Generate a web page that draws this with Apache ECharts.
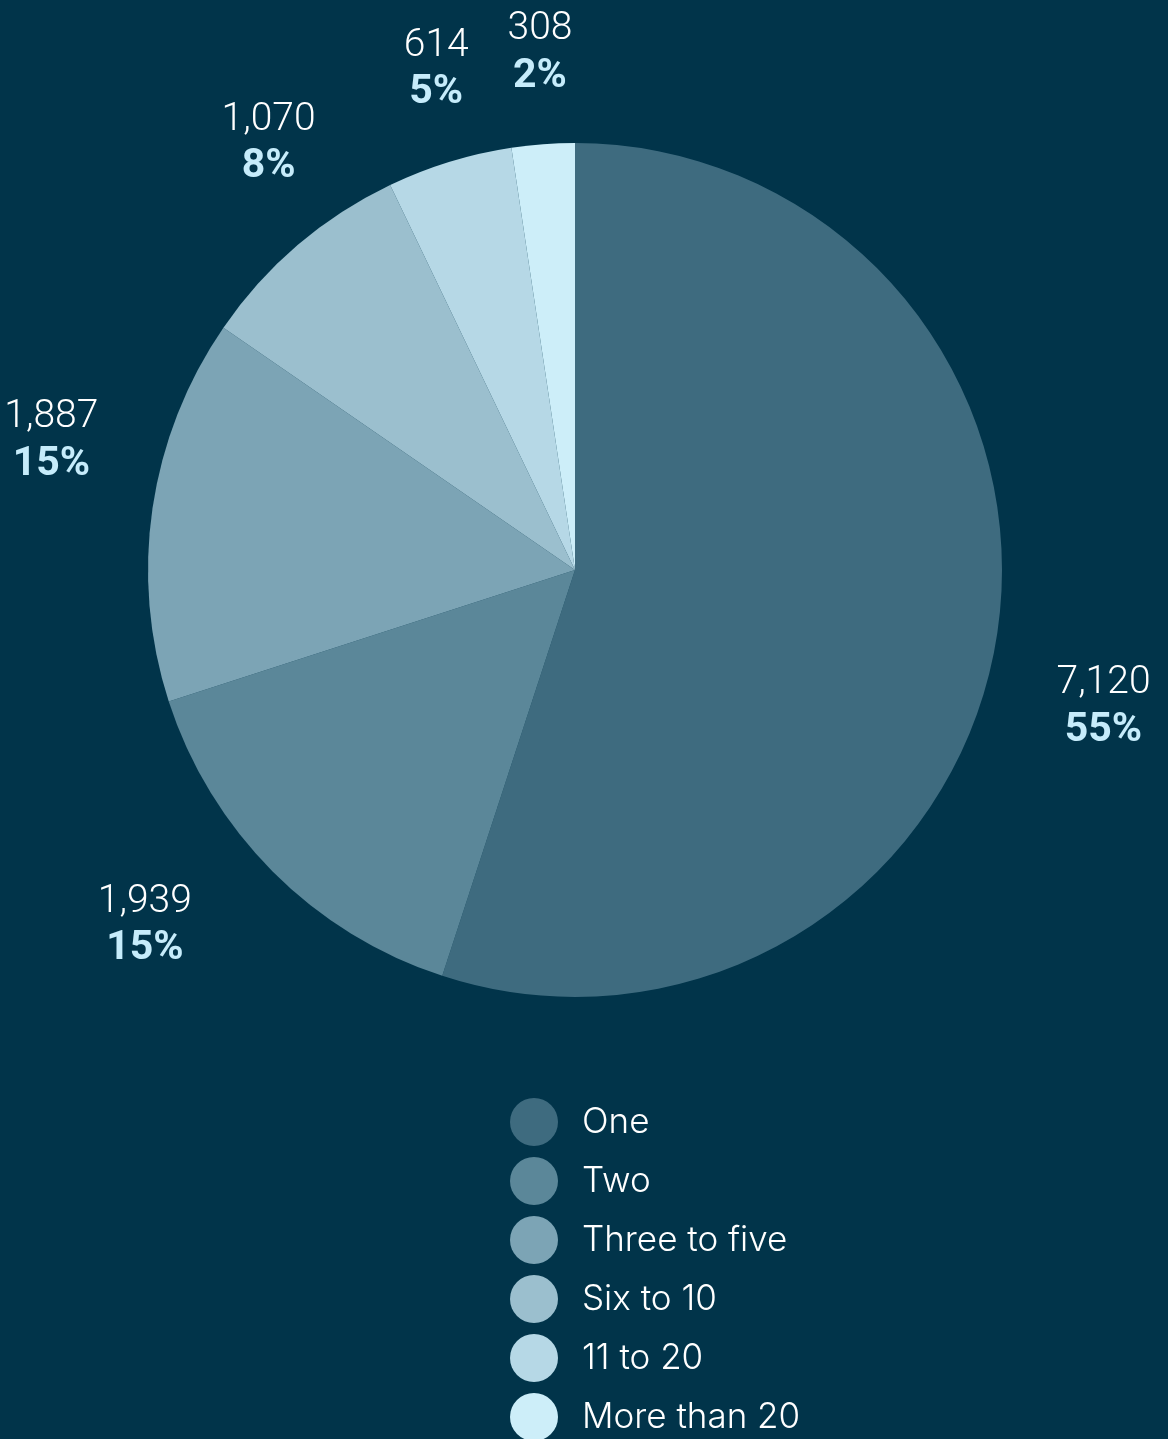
<!DOCTYPE html>
<html>
<head>
<meta charset="utf-8">
<script src="https://cdn.jsdelivr.net/npm/echarts@6/dist/echarts.min.js"></script>
<style>
  html, body { margin: 0; padding: 0; background: #01344a; }
  #chart { width: 1168px; height: 1439px; }
</style>
</head>
<body>
<div id="chart"></div>
<script>
// Households by number of members
const categories = ['One', 'Two', 'Three to five', 'Six to 10', '11 to 20', 'More than 20'];
const counts = [7120, 1939, 1887, 1070, 614, 308];
const sliceColors = ['#3e6b7f', '#5b8799', '#7ca4b5', '#9bbfce', '#b6d8e6', '#cdeef9'];

const PIE_CENTER = [575, 570];
const PIE_RADIUS = 427;

const total = counts.reduce((a, b) => a + b, 0);

function sliceAngles(idx) {
  // screen angle (clockwise from +x) of a slice's middle, and its span in degrees
  let before = 0;
  for (let i = 0; i < idx; i++) before += counts[i];
  const frac = (before + counts[idx] / 2) / total;
  return { mid: -Math.PI / 2 + frac * 2 * Math.PI, span: counts[idx] / total * 360 };
}

const LEGEND_FONT = 'Inter, Roboto, sans-serif';
const LABEL_FONT = 'Roboto, Inter, sans-serif';

const chart = echarts.init(document.getElementById('chart'), null, { renderer: 'canvas' });

chart.setOption({
  backgroundColor: '#01344a',
  animation: false,
  color: sliceColors,
  legend: {
    orient: 'vertical',
    left: 510,
    top: 1098,
    height: 600,
    padding: 0,
    icon: 'circle',
    itemWidth: 48,
    itemHeight: 48,
    itemGap: 11,
    itemStyle: { borderWidth: 0 },
    textStyle: {
      color: '#ffffff',
      fontFamily: LEGEND_FONT,
      fontWeight: 300,
      fontSize: 35,
      padding: [0, 0, 0, 19]
    },
    data: categories
  },
  series: [{
    type: 'pie',
    center: PIE_CENTER,
    radius: PIE_RADIUS,
    startAngle: 90,
    clockwise: true,
    avoidLabelOverlap: false,
    itemStyle: { borderWidth: 0 },
    emphasis: { disabled: true },
    data: categories.map((name, i) => ({ name: name, value: counts[i] })),
    label: {
      show: true,
      position: 'outside',
      formatter: function (p) {
        return '{n|' + p.value.toLocaleString('en-US') + '}\n{p|' + Math.round(p.percent) + '%}';
      },
      rich: {
        n: { color: '#ffffff', fontFamily: LABEL_FONT, fontWeight: 300, fontSize: 39, lineHeight: 47, align: 'center' },
        p: { color: '#c6ecfb', fontFamily: LABEL_FONT, fontWeight: 'bold', fontSize: 41, lineHeight: 47, align: 'center' }
      }
    },
    labelLine: { show: true, length: 10, length2: 0, lineStyle: { opacity: 0, width: 0 } },
    labelLayout: function (params) {
      const s = sliceAngles(params.dataIndex);
      const pts = params.labelLinePoints;
      const ang = (pts && pts.length)
        ? Math.atan2(pts[0][1] - PIE_CENTER[1], pts[0][0] - PIE_CENTER[0])
        : s.mid;
      const ux = Math.cos(ang), uy = Math.sin(ang);
      // labels sit a little further out below the centre line, nearer at the top
      const radial = 540 + 22 * uy;
      // wide slices get a fuller clockwise nudge, thin ones stay near their middle
      const shift = Math.min(52, 0.05 * s.span * s.span);
      return {
        x: PIE_CENTER[0] + radial * ux - shift * uy,
        y: PIE_CENTER[1] + radial * uy + shift * ux,
        align: 'center',
        verticalAlign: 'middle'
      };
    }
  }]
});
</script>
</body>
</html>
